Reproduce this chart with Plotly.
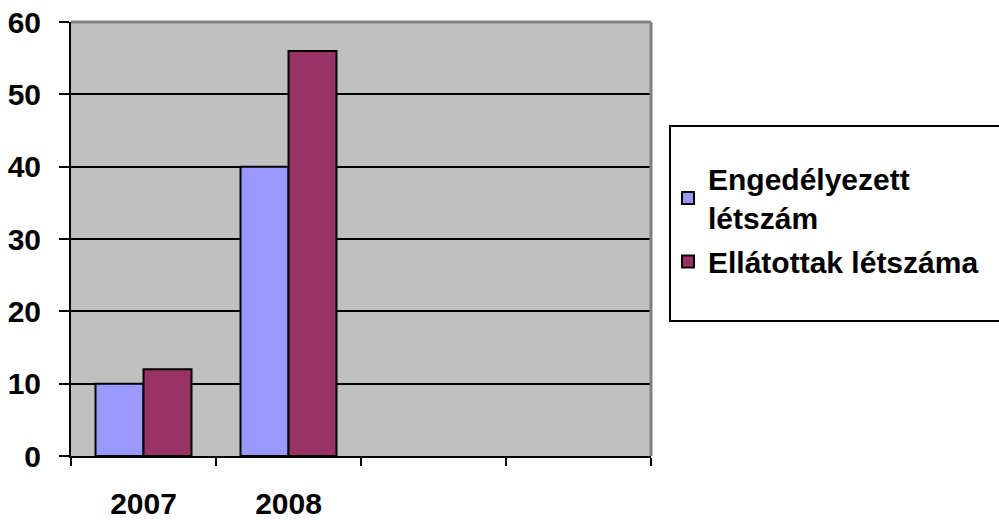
import plotly.graph_objects as go

categories = ["2007", "2008", " ", "  "]
years = ["2007", "2008"]
engedelyezett = [10, 40]
ellatottak = [12, 56]
series_names = ["Engedélyezett<br>létszám", "Ellátottak létszáma"]
y_ticks = [0, 10, 20, 30, 40, 50, 60]

FONT = "Liberation Sans, Arial, sans-serif"
W, H = 999, 520
L, T = 71, 22
R = W - 651
B = H - 456
pw, ph = W - L - R, H - T - B

fig = go.Figure()
fig.add_trace(go.Bar(x=years, y=engedelyezett, name=series_names[0],
                     marker=dict(color="#9999FF", line=dict(color="black", width=2)),
                     legendgroup="a"))
fig.add_trace(go.Bar(x=years, y=ellatottak, name=series_names[1],
                     marker=dict(color="#993366", line=dict(color="black", width=2)),
                     legendgroup="b"))

def px_x(x):
    return (x - L) / pw

def px_y(y):
    return (H - B - y) / ph

fig.update_layout(
    width=W, height=H,
    margin=dict(l=L, r=R, t=T, b=B, autoexpand=False),
    paper_bgcolor="white",
    plot_bgcolor="#C0C0C0",
    barmode="group",
    bargap=0.338,
    bargroupgap=0,
    font=dict(family=FONT, size=30, color="black"),
    showlegend=True,
    legend=dict(
        x=px_x(668), xanchor="left",
        y=px_y(220), yanchor="middle",
        bgcolor="rgba(0,0,0,0)",
        borderwidth=0,
        font=dict(family=FONT, size=30, color="black", weight="bold"),
        traceorder="grouped",
        tracegroupgap=2,
    ),
    xaxis=dict(
        type="category",
        categoryorder="array", categoryarray=categories,
        range=[-0.5, 3.5],
        tickson="boundaries",
        ticks="outside", ticklen=8, tickwidth=2, tickcolor="black",
        showline=True, linecolor="black", linewidth=2,
        showgrid=False,
        tickfont=dict(family=FONT, size=30, weight="bold"),
        ticklabelstandoff=20,
        ticklabeloverflow="allow",
        fixedrange=True,
    ),
    yaxis=dict(
        range=[0, 60],
        tickvals=y_ticks,
        ticks="outside", ticklen=10, tickwidth=2, tickcolor="black",
        showline=True, linecolor="black", linewidth=2,
        showgrid=True, gridcolor="black", gridwidth=2,
        zeroline=False,
        tickfont=dict(family=FONT, size=30, weight="bold"),
        ticklabelstandoff=12,
        ticklabeloverflow="allow",
        fixedrange=True,
    ),
    shapes=[
        dict(type="line", xref="paper", yref="paper", x0=0, x1=1, y0=1, y1=1,
             line=dict(color="#808080", width=3)),
        dict(type="line", xref="paper", yref="paper", x0=1, x1=1, y0=0, y1=1,
             line=dict(color="#808080", width=3)),
        dict(type="rect", xref="paper", yref="paper",
             x0=px_x(670), x1=px_x(1010), y0=px_y(321), y1=px_y(126),
             line=dict(color="black", width=2), fillcolor="rgba(0,0,0,0)"),
    ],
)

fig.write_html("out.html",
               config={"displayModeBar": False},
               post_script="document.body.style.margin='0';document.body.style.overflow='hidden';")
